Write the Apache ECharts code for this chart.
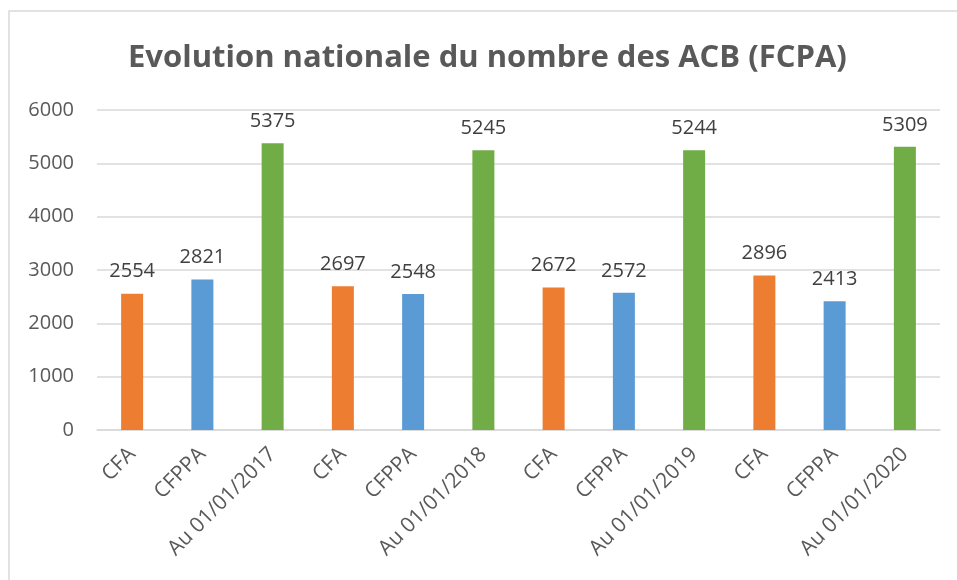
<!DOCTYPE html>
<html>
<head>
<meta charset="utf-8">
<script src="https://cdn.jsdelivr.net/npm/echarts@6/dist/echarts.min.js"></script>
<style>
	html, body { margin: 0; padding: 0; background: #fff; }
	#chart { width: 957px; height: 580px; }
</style>
</head>
<body>
<div id="chart"></div>
<script>
var categories = ['CFA', 'CFPPA', 'Au 01/01/2017', 'CFA', 'CFPPA', 'Au 01/01/2018',
	'CFA', 'CFPPA', 'Au 01/01/2019', 'CFA', 'CFPPA', 'Au 01/01/2020']
var values = [2554, 2821, 5375, 2697, 2548, 5245, 2672, 2572, 5244, 2896, 2413, 5309]
var yTicks = [0, 1000, 2000, 3000, 4000, 5000, 6000]

var palette = ['#ED7D31', '#5B9BD5', '#70AD47']
var font = '"Open Sans", "Liberation Sans", sans-serif'

function renderChart() {
	var myChart = echarts.init(document.getElementById('chart'))
	var option = {
		animation: false,
		title: {
			text: 'Evolution nationale du nombre des ACB (FCPA)',
			left: 123,
			top: 38,
			textStyle: {
				color: '#595959',
				fontSize: 31,
				fontWeight: 'bold',
				fontFamily: font
			}
		},
		graphic: [{
			type: 'rect',
			shape: { x: 9, y: 11, width: 960, height: 580 },
			style: { fill: 'none', stroke: '#d9d9d9', lineWidth: 1.5 },
			silent: true
		}],
		grid: { left: 97, right: 17, top: 110, bottom: 150 },
		xAxis: {
			type: 'category',
			data: categories,
			axisLine: { lineStyle: { color: '#d9d9d9', width: 1.5 } },
			axisTick: { show: false },
			axisLabel: {
				rotate: 45,
				margin: 21,
				interval: 0,
				color: '#595959',
				fontSize: 21,
				fontFamily: font
			}
		},
		yAxis: {
			type: 'value',
			min: yTicks[0],
			max: yTicks[yTicks.length - 1],
			interval: 1000,
			axisLine: { show: false },
			axisTick: { show: false },
			splitLine: { lineStyle: { color: '#d9d9d9', width: 1.5 } },
			axisLabel: {
				margin: 23,
				color: '#595959',
				fontSize: 20,
				fontFamily: font,
				formatter: function (v) { return String(v) }
			}
		},
		series: [{
			type: 'bar',
			barWidth: 22,
			data: values,
			itemStyle: {
				color: function (p) { return palette[p.dataIndex % 3] }
			},
			label: {
				show: true,
				position: 'top',
				distance: 12,
				color: '#404040',
				fontSize: 20,
				fontFamily: font,
				formatter: function (p) { return String(p.value) }
			}
		}]
	}
	myChart.setOption(option)
}

renderChart()
</script>
</body>
</html>
